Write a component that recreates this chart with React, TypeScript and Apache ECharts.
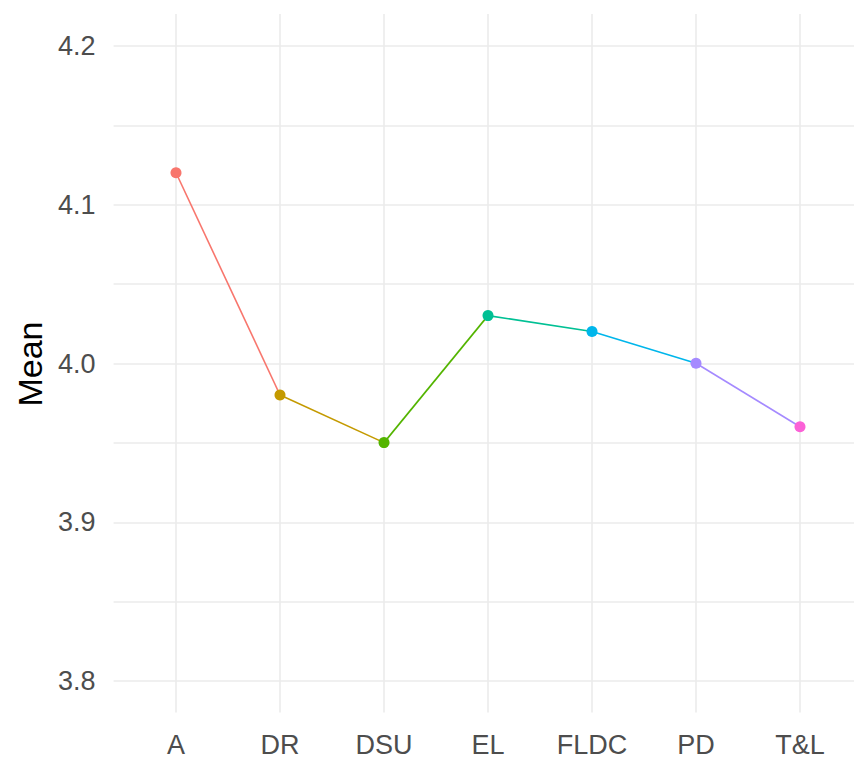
import React, { useEffect, useRef } from "react";
import * as echarts from "echarts";

const categories = ["A", "DR", "DSU", "EL", "FLDC", "PD", "T&L"];
const means = [4.12, 3.98, 3.95, 4.03, 4.02, 4.0, 3.96];
const colors = ["#F8766D", "#C49A00", "#53B400", "#00C094", "#00B6EB", "#A58AFF", "#FB61D7"];
const yTicks = [3.8, 3.9, 4.0, 4.1, 4.2];
const yTitle = "Mean";

export default function App() {
  const ref = useRef<HTMLDivElement>(null);
  useEffect(() => {
    document.body.style.margin = "0";
    const chart = echarts.init(ref.current!, null, { renderer: "svg" });
    const font = "'Liberation Sans', Arial, sans-serif";
    const gridColor = "#EBEBEB";

    const segmentSeries = categories.slice(0, -1).map((_, i) => ({
      type: "line" as const,
      xAxisIndex: 1,
      yAxisIndex: 1,
      data: means.map((v, j) => (j === i || j === i + 1 ? v : null)),
      symbol: "none",
      connectNulls: false,
      lineStyle: { color: colors[i], width: 1.6 },
      z: 3,
    }));

    chart.setOption({
      animation: false,
      grid: [
        { left: 113.6, right: -8, top: 46, bottom: 760 - 681 },
        { left: 176, right: 54, top: 14, bottom: 760 - 712.5 },
      ],
      xAxis: [
        { type: "value", gridIndex: 0, show: false, min: 0, max: 1 },
        {
          type: "category",
          gridIndex: 1,
          data: categories,
          boundaryGap: false,
          axisLine: { show: false },
          axisTick: { show: false },
          axisLabel: { color: "#4D4D4D", fontSize: 27, fontFamily: font, margin: 19 },
          splitLine: { show: true, lineStyle: { color: gridColor, width: 1.6 } },
        },
      ],
      yAxis: [
        {
          type: "value",
          gridIndex: 0,
          min: yTicks[0],
          max: yTicks[yTicks.length - 1],
          interval: 0.1,
          axisLine: { show: false },
          axisTick: { show: false },
          axisLabel: {
            color: "#4D4D4D",
            fontSize: 27,
            fontFamily: font,
            margin: 18,
            formatter: (v: number) => v.toFixed(1),
          },
          splitLine: { show: true, lineStyle: { color: gridColor, width: 1.6 } },
          minorTick: { show: false, splitNumber: 2 },
          minorSplitLine: { show: true, lineStyle: { color: gridColor, width: 1.6 } },
        },
        {
          type: "value",
          gridIndex: 1,
          min: 3.78,
          max: 4.22,
          show: false,
          splitLine: { show: false },
        },
      ],
      graphic: [
        {
          type: "text",
          x: 30,
          y: 364,
          rotation: Math.PI / 2,
          style: {
            text: yTitle,
            align: "center",
            verticalAlign: "middle",
            fontSize: 34,
            fontFamily: font,
            fill: "#000000",
          },
        },
      ],
      series: [
        ...segmentSeries,
        {
          type: "scatter",
          xAxisIndex: 1,
          yAxisIndex: 1,
          symbolSize: 11,
          z: 4,
          data: means.map((v, i) => ({ value: v, itemStyle: { color: colors[i], opacity: 1 } })),
        },
      ],
    });
    return () => chart.dispose();
  }, []);
  return <div ref={ref} style={{ width: 854, height: 760 }} />;
}
